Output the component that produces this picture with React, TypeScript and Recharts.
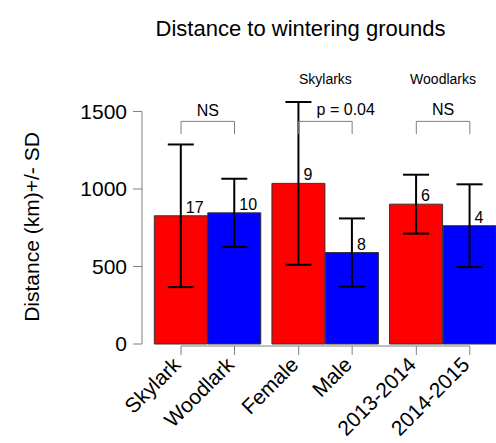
import { Bar, Cell, ComposedChart, ErrorBar, LabelList, ReferenceDot, ReferenceLine, XAxis, YAxis } from 'recharts';

const categories = ['Skylark', 'Woodlark', 'Female', 'Male', '2013-2014', '2014-2015'];
const positions = [0.5, 1.5, 2.7, 3.7, 4.9, 5.9];
const means = [827, 846, 1036, 590, 902, 763];
const sds = [460, 220, 525, 220, 190, 267];
const counts = [17, 10, 9, 8, 6, 4];
const fills = ['#ff0000', '#0000ff', '#ff0000', '#0000ff', '#ff0000', '#0000ff'];
const yTicks = [0, 500, 1000, 1500];

// brackets between pairs of bars
const brackets = [
  [0.5, 1.5],
  [2.7, 3.7],
  [4.9, 5.9],
];
const bracketTop = 1436;
const bracketLeg = 1354;

const notes = [
  { x: 1.0, y: 1506, text: 'NS', size: 16 },
  { x: 3.58, y: 1513, text: 'p = 0.04', size: 16 },
  { x: 5.4, y: 1513, text: 'NS', size: 16 },
  { x: 3.2, y: 1712, text: 'Skylarks', size: 14 },
  { x: 5.4, y: 1712, text: 'Woodlarks', size: 14 },
];

const data = categories.map((name, i) => ({
  name,
  pos: positions[i],
  mean: means[i],
  sd: sds[i],
  n: counts[i],
}));

const xMin = -0.23;
const xMax = 6.39;

const FONT = '"Liberation Sans", Arial, sans-serif';
const GREY = '#808080';

function XTick(props: any) {
  const { x, y, payload } = props;
  const idx = positions.indexOf(payload.value);
  const tx = x + 1;
  const ty = y + 22;
  return (
    <g>
      <line x1={x} y1={y + 2} x2={x} y2={y + 11} stroke={GREY} />
      <text
        x={tx}
        y={ty}
        transform={`rotate(-45, ${tx}, ${ty})`}
        textAnchor="end"
        fontSize={21}
        fontFamily={FONT}
        fill="#000"
      >
        {categories[idx]}
      </text>
    </g>
  );
}

function CountLabel(props: any) {
  const { x, y, width, value } = props;
  return (
    <text x={x + width / 2 + 5} y={y - 3} fontSize={16} fontFamily={FONT} fill="#000">
      {value}
    </text>
  );
}

export default function App() {
  return (
    <div style={{ position: 'absolute', left: 0, top: 0, width: 496, height: 443, background: '#fff' }}>
      <div
        style={{
          position: 'absolute',
          left: 0,
          top: 18,
          width: 601,
          textAlign: 'center',
          fontFamily: FONT,
          fontSize: 22,
          lineHeight: '22px',
          color: '#000',
        }}
      >
        Distance to wintering grounds
      </div>
      <ComposedChart width={496} height={443} data={data} margin={{ top: 102, right: 0, bottom: 0, left: 0 }}>
        <XAxis
          dataKey="pos"
          type="number"
          domain={[xMin, xMax]}
          allowDataOverflow
          ticks={positions}
          interval={0}
          axisLine={false}
          tickLine={false}
          tickSize={0}
          tickMargin={0}
          height={99}
          tick={<XTick />}
        />
        <YAxis
          domain={[0, 'dataMax']}
          ticks={yTicks}
          width={142}
          axisLine={false}
          tickLine={{ stroke: GREY }}
          tickSize={9}
          tickMargin={6}
          tick={{ fill: '#000', fontSize: 21, fontFamily: FONT }}
          label={{
            content: (p: any) => {
              const vb = p.viewBox;
              const cx = vb.x + 31;
              const cy = vb.y + vb.height / 2 + 4;
              return (
                <text
                  x={cx}
                  y={cy}
                  transform={`rotate(-90, ${cx}, ${cy})`}
                  textAnchor="middle"
                  dominantBaseline="central"
                  fontSize={21}
                  fontFamily={FONT}
                  fill="#000"
                >
                  Distance (km)+/- SD
                </text>
              );
            },
          }}
        />
        <ReferenceLine
          segment={[
            { x: xMin, y: yTicks[0] },
            { x: xMin, y: yTicks[yTicks.length - 1] },
          ]}
          stroke={GREY}
          ifOverflow="visible"
        />
        <Bar dataKey="mean" barSize={53} stroke="#333" strokeWidth={1} isAnimationActive={false}>
          {data.map((d, i) => (
            <Cell key={d.name} fill={fills[i]} />
          ))}
          <ErrorBar dataKey="sd" direction="y" width={13} stroke="#000" strokeWidth={2} />
          <LabelList dataKey="n" content={<CountLabel />} />
        </Bar>
        <ReferenceLine
          segment={[
            { x: positions[0], y: -13 },
            { x: positions[positions.length - 1], y: -13 },
          ]}
          stroke={GREY}
          ifOverflow="visible"
        />
        {brackets.map(([a, b], i) => [
          <ReferenceLine
            key={`t${i}`}
            segment={[
              { x: a, y: bracketTop },
              { x: b, y: bracketTop },
            ]}
            stroke={GREY}
            ifOverflow="visible"
          />,
          <ReferenceLine
            key={`a${i}`}
            segment={[
              { x: a, y: bracketTop },
              { x: a, y: bracketLeg },
            ]}
            stroke={GREY}
            ifOverflow="visible"
          />,
          <ReferenceLine
            key={`b${i}`}
            segment={[
              { x: b, y: bracketTop },
              { x: b, y: bracketLeg },
            ]}
            stroke={GREY}
            ifOverflow="visible"
          />,
        ])}
        {notes.map(n => (
          <ReferenceDot
            key={n.text + n.x}
            x={n.x}
            y={n.y}
            r={0}
            fill="none"
            stroke="none"
            ifOverflow="visible"
            label={{ value: n.text, position: 'center', fill: '#000', fontSize: n.size, fontFamily: FONT }}
          />
        ))}
      </ComposedChart>
    </div>
  );
}
